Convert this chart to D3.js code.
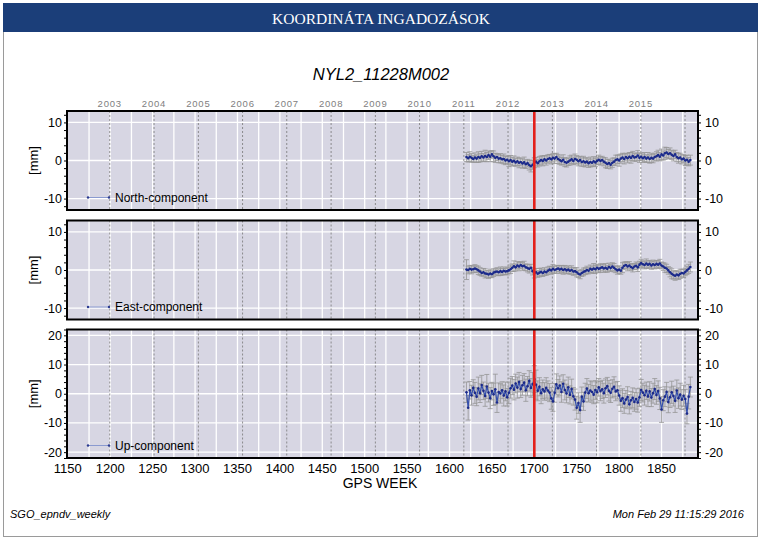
<!DOCTYPE html>
<html>
<head>
<meta charset="utf-8">
<script src="https://cdn.jsdelivr.net/npm/d3@7"></script>
<style>
  body { margin: 0; background: #fff; }
  svg text { font-family: "Liberation Sans", Arial, sans-serif; }
</style>
</head>
<body>
<div id="chart"></div>
<script>
// GPS weeks sampled (every second week)
var weeks = [1620,1622,1624,1626,1628,1630,1632,1634,1636,1638,1640,1642,1644,1646,1648,1650,1652,1654,1656,1658,
  1660,1662,1664,1666,1668,1670,1672,1674,1676,1678,1680,1682,1684,1686,1688,1690,1692,1694,1696,1698,
  1700,1702,1704,1706,1708,1710,1712,1714,1716,1718,1720,1722,1724,1726,1728,1730,1732,1734,1736,1738,
  1740,1742,1744,1746,1748,1750,1752,1754,1756,1758,1760,1762,1764,1766,1768,1770,1772,1774,1776,1778,
  1780,1782,1784,1786,1788,1790,1792,1794,1796,1798,1800,1802,1804,1806,1808,1810,1812,1814,1816,1818,
  1820,1822,1824,1826,1828,1830,1832,1834,1836,1838,1840,1842,1844,1846,1848,1850,1852,1854,1856,1858,
  1860,1862,1864,1866,1868,1870,1872,1874,1876,1878,1880,1882,1884]

var north = [0.9,0.6,1.0,0.7,0.4,0.8,0.5,0.9,0.7,1.1, 0.8,1.2,0.9,1.4,1.0,1.6,1.1,0.7,0.9,0.5,
  0.6,0.3,0.4,0.0,0.2,-0.2,0.1,-0.3,-0.1,-0.5, -0.2,-0.6,-0.4,-0.8,-0.5,-1.0,-0.7,-1.2,-1.5,-1.1,
  -0.6,-0.3,-0.7,-0.2,0.1,-0.1,0.3,0.0,0.4,0.6, 0.3,0.7,0.5,0.9,0.4,0.1,-0.2,0.2,-0.4,-0.6,
  -0.3,0.0,0.3,-0.1,0.4,0.2,-0.2,0.1,-0.4,-0.2, -0.5,-0.3,-0.7,-0.4,-0.6,-0.2,-0.5,-0.1,0.2,-0.1,
  0.1,-0.3,-0.6,-0.9,-0.7,-1.1,-0.6,-0.3,0.1,0.3, 0.0,0.5,0.8,0.4,0.9,0.6,1.0,0.7,1.2,0.8,
  0.9,1.3,0.7,1.0,0.6,0.9,0.5,0.8,0.4,0.7, 0.5,0.9,1.1,1.4,1.0,1.6,1.3,1.9,2.1,1.7,
  1.9,1.5,1.2,1.6,0.9,0.6,0.8,0.3,0.5,0.0, 0.2,-0.3,0.1]
var northErr = [1.2,1.0,1.3,1.1,0.9,1.2,1.0,1.4,1.1,1.3, 1.0,1.5,1.2,1.1,1.3,1.0,1.4,1.2,0.9,1.1,
  1.2,1.0,1.3,1.1,1.0,1.4,1.2,1.1,1.3,1.0, 1.1,1.3,1.0,1.2,1.4,1.1,1.0,1.3,1.5,1.2,
  1.3,1.1,1.0,1.2,1.1,1.3,1.0,1.2,1.1,1.0, 1.2,1.1,1.3,1.0,1.2,1.1,1.0,1.3,1.2,1.1,
  1.0,1.2,1.1,1.0,1.3,1.1,1.2,1.0,1.1,1.3, 1.2,1.0,1.1,1.3,1.0,1.2,1.1,1.0,1.2,1.1,
  1.0,1.1,1.3,1.2,1.0,1.1,1.2,1.0,1.3,1.1, 1.5,1.2,1.1,1.3,1.0,1.2,1.1,1.4,1.2,1.0,
  1.1,1.3,1.2,1.0,1.1,1.2,1.0,1.3,1.1,1.2, 1.1,1.0,1.2,1.3,1.1,1.4,1.2,1.6,1.3,1.2,
  1.4,1.2,1.3,1.1,1.2,1.3,1.1,1.2,1.0,1.3, 1.2,1.1,1.3]

var east = [0.1,0.0,0.3,0.1,0.2,0.4,0.2,-0.1,-0.4,-0.8, -0.6,-0.9,-1.0,-1.2,-0.9,-1.1,-0.7,-0.5,-0.4,-0.6,
  -0.3,-0.5,-0.2,-0.4,-0.3,-0.1,0.2,0.6,1.0,0.7, 1.2,0.9,1.3,1.0,1.1,0.7,0.5,0.3,0.6,-0.3,
  -0.9,-0.6,-1.0,-0.7,-0.5,-0.8,-0.4,-0.6,-0.2,0.1, -0.1,0.3,0.0,0.2,0.4,0.1,0.3,0.0,0.2,-0.1,
  0.1,-0.2,0.0,-0.4,-0.3,-0.6,-1.0,-1.2,-0.8,-0.5, -0.3,0.0,-0.2,0.3,0.1,0.4,0.2,0.6,0.3,0.5,
  0.7,0.4,0.6,0.3,0.8,0.5,0.9,0.6,0.2,-0.1, 0.1,-0.2,0.6,1.1,1.3,0.9,1.2,0.8,0.5,0.9,
  1.1,0.7,1.4,1.8,1.5,1.3,1.7,1.4,1.6,1.2, 1.5,1.3,1.6,1.4,1.7,1.2,0.9,0.6,0.4,-0.1,
  -0.6,-1.0,-1.3,-1.5,-1.2,-1.4,-1.0,-0.8,-0.9,-0.5, -0.1,0.3,0.8]
var eastErr = [2.6,1.0,0.9,1.1,0.8,1.0,0.9,1.1,1.0,0.8, 1.0,1.2,0.9,1.0,1.1,0.9,1.0,0.8,1.0,0.9,
  1.1,0.9,1.0,0.8,1.0,0.9,1.1,1.0,1.4,0.9, 1.0,1.1,0.9,1.0,1.2,0.9,1.0,1.1,0.9,1.0,
  1.2,1.0,0.9,1.1,1.0,0.9,1.0,0.8,1.0,0.9, 1.0,1.1,0.9,1.0,0.8,1.0,0.9,1.1,1.0,0.9,
  1.0,0.9,1.1,1.0,0.9,1.2,1.0,1.1,0.9,1.0, 0.9,1.0,0.8,1.0,0.9,1.3,1.0,0.9,1.0,1.1,
  0.9,1.0,1.1,0.9,1.0,0.9,1.0,1.1,0.9,1.0, 1.0,0.9,1.3,1.0,0.9,1.1,1.0,0.9,1.0,0.8,
  1.0,1.1,0.9,1.0,0.9,1.0,1.2,1.0,0.9,1.0, 1.1,1.0,0.9,1.0,1.1,0.9,1.0,1.2,1.1,1.0,
  1.2,1.3,1.1,1.2,1.0,1.1,1.2,1.0,1.1,1.0, 1.1,1.2,1.3]

var up = [0.5,-4.8,1.2,-0.5,2.0,0.3,-1.0,1.8,0.2,3.0, 1.0,-0.8,2.5,0.4,-1.5,0.9,-0.2,1.5,-3.0,0.6,
  0.1,1.2,-0.6,0.8,-1.2,0.3,1.9,2.8,1.4,3.5, 2.1,4.0,1.6,2.9,3.8,1.2,2.6,4.4,2.0,3.3,
  5.0,3.1,1.0,2.4,0.2,1.5,0.8,2.0,1.1,0.4, -1.6,-2.6,0.3,3.2,1.9,2.8,0.6,3.4,1.3,0.1,
  2.2,-0.4,1.6,-0.9,-2.0,-4.8,-3.2,-5.6,-1.0,-2.6, 0.4,1.8,0.2,1.1,0.6,-0.3,1.3,0.5,2.2,0.9,
  1.5,0.2,1.9,2.6,1.0,0.3,1.7,2.4,0.8,1.2, -0.6,-2.4,-1.5,-3.3,-2.0,-1.1,-3.6,-2.2,-1.4,-2.8,
  -1.8,-3.0,-1.2,1.3,0.4,-0.5,1.0,-0.9,0.8,-1.3, 0.2,1.6,-0.4,0.9,-1.6,-5.4,-2.2,-1.0,0.6,-2.8,
  -1.2,0.5,-0.8,-2.4,1.1,-1.5,-0.3,-2.0,-0.7,-1.8, -6.8,-1.0,2.3]
var upErr = [3.5,4.2,3.0,3.4,2.8,3.6,3.1,3.9,3.2,3.3, 3.0,3.5,4.1,3.2,3.6,3.0,3.8,5.2,3.4,3.1,
  3.3,2.9,3.6,3.2,3.0,3.7,3.4,3.1,3.5,3.2, 3.6,3.3,2.9,3.4,3.1,3.8,3.3,3.5,3.2,4.0,
  4.6,5.0,3.4,3.1,3.6,3.2,3.0,3.5,3.3,3.1, 3.7,3.4,3.2,3.6,3.0,3.3,3.5,3.1,3.4,3.2,
  3.5,3.1,3.4,3.0,3.6,3.9,3.5,4.2,3.3,3.1, 3.2,3.4,3.0,3.3,3.5,3.1,3.2,3.6,3.0,3.3,
  3.1,3.4,3.2,3.0,3.5,3.3,3.1,3.4,3.2,3.0, 3.3,3.6,3.2,3.4,3.1,3.5,3.3,3.0,3.4,3.2,
  3.5,3.3,3.1,3.6,3.2,3.4,3.0,3.5,3.3,3.1, 3.4,3.6,3.2,3.5,3.8,4.4,3.6,3.4,3.3,3.7,
  3.5,3.8,3.4,4.0,3.6,3.5,3.9,3.4,3.6,3.3, 3.5,4.2,3.4]

var yearLabels = [2003,2004,2005,2006,2007,2008,2009,2010,2011,2012,2013,2014,2015]
var yearStarts = [1199.4,1251.6,1303.9,1356.0,1408.1,1460.4,1512.6,1564.7,1616.9,1669.0,1721.3,1773.4,1825.6,1877.7]
var weekTicks = [1150,1200,1250,1300,1350,1400,1450,1500,1550,1600,1650,1700,1750,1800,1850]
var markWeek = 1700

var panels = [
  {name: "North-component", values: north, errs: northErr, top: 111, bottom: 210, lim: 13, ticks: [-10,0,10]},
  {name: "East-component", values: east, errs: eastErr, top: 220.5, bottom: 319.5, lim: 13, ticks: [-10,0,10]},
  {name: "Up-component", values: up, errs: upErr, top: 329.5, bottom: 458, lim: 22, ticks: [-20,-10,0,10,20]}
]

var width = 762, height = 541
var left = 67, right = 698

var svg = d3.select("#chart").append("svg")
  .attr("width", width)
  .attr("height", height)

// outer frame and header
svg.append("rect").attr("x", 3.5).attr("y", 3.5).attr("width", 754).attr("height", 533)
  .attr("fill", "none").attr("stroke", "#9a9a9a")
svg.append("rect").attr("x", 3).attr("y", 3).attr("width", 755).attr("height", 29)
  .attr("fill", "#1b3e79")
svg.append("text").attr("x", 381).attr("y", 23.5)
  .attr("text-anchor", "middle").attr("fill", "#fff")
  .style("font-family", "'Liberation Serif', 'Times New Roman', serif").style("font-size", "15.5px")
  .text("KOORDINÁTA INGADOZÁSOK")

svg.append("text").attr("x", 381).attr("y", 80)
  .attr("text-anchor", "middle").style("font-size", "16.5px").style("font-style", "italic")
  .text("NYL2_11228M002")

var x = d3.scaleLinear().domain([1149, 1893]).range([left, right])

// year labels along the top
svg.selectAll(".year").data(yearLabels).enter().append("text")
  .attr("class", "year")
  .attr("x", function(d, i) { return x(yearStarts[i]) })
  .attr("y", 107)
  .attr("text-anchor", "middle")
  .attr("fill", "#808080")
  .style("font-size", "9.5px").style("letter-spacing", "0.8px")
  .text(function(d) { return d })

panels.forEach(function(p) {
  var y = d3.scaleLinear().domain([-p.lim, p.lim]).range([p.bottom, p.top])
  var g = svg.append("g")

  g.append("rect").attr("x", left).attr("y", p.top)
    .attr("width", right - left).attr("height", p.bottom - p.top)
    .attr("fill", "#d7d6e3")

  // white grid: every 25 weeks, and at the labelled mm values
  g.selectAll(".vg").data(d3.range(1175, 1893, 25)).enter().append("line")
    .attr("x1", function(d) { return x(d) }).attr("x2", function(d) { return x(d) })
    .attr("y1", p.top).attr("y2", p.bottom)
    .attr("stroke", "#fff").attr("stroke-width", 1.3)
  g.selectAll(".hg").data(p.ticks).enter().append("line")
    .attr("x1", left).attr("x2", right)
    .attr("y1", function(d) { return y(d) }).attr("y2", function(d) { return y(d) })
    .attr("stroke", "#fff").attr("stroke-width", 1.3)

  // year boundaries
  g.selectAll(".yl").data(yearStarts).enter().append("line")
    .attr("x1", function(d) { return x(d) }).attr("x2", function(d) { return x(d) })
    .attr("y1", p.top).attr("y2", p.bottom)
    .attr("stroke", "#777").attr("stroke-width", 0.8).attr("stroke-dasharray", "2,2")

  // error bars
  var eb = g.append("g").attr("stroke", "#969696").attr("stroke-width", 0.8)
  p.values.forEach(function(v, i) {
    var cx = x(weeks[i]), y0 = y(v - p.errs[i]), y1 = y(v + p.errs[i])
    eb.append("line").attr("x1", cx).attr("x2", cx).attr("y1", y0).attr("y2", y1)
    eb.append("line").attr("x1", cx - 2.5).attr("x2", cx + 2.5).attr("y1", y0).attr("y2", y0)
    eb.append("line").attr("x1", cx - 2.5).attr("x2", cx + 2.5).attr("y1", y1).attr("y2", y1)
  })

  var line = d3.line().x(function(d, i) { return x(weeks[i]) }).y(function(d) { return y(d) })
  g.append("path").datum(p.values).attr("d", line)
    .attr("fill", "none").attr("stroke", "#3550ad").attr("stroke-width", 1.2)
  g.selectAll(".pt").data(p.values).enter().append("circle")
    .attr("cx", function(d, i) { return x(weeks[i]) })
    .attr("cy", function(d) { return y(d) })
    .attr("r", 1.3).attr("fill", "#1c2a8a")

  // red reference week
  g.append("line").attr("x1", x(markWeek)).attr("x2", x(markWeek))
    .attr("y1", p.top).attr("y2", p.bottom)
    .attr("stroke", "#e3201b").attr("stroke-width", 2.6)

  // legend
  var ly = p.bottom - 12.5
  g.append("line").attr("x1", 88).attr("x2", 109).attr("y1", ly).attr("y2", ly)
    .attr("stroke", "#8a9ad0").attr("stroke-width", 1)
  g.selectAll(".ld").data([88, 109]).enter().append("circle")
    .attr("cx", function(d) { return d }).attr("cy", ly).attr("r", 1.2).attr("fill", "#2a3a90")
  g.append("text").attr("x", 115).attr("y", ly + 4.2)
    .style("font-size", "12px").text(p.name)

  // axes left and right
  g.append("g").attr("transform", "translate(" + left + ",0)")
    .call(d3.axisLeft(y).tickValues(d3.range(-p.lim + (p.lim % 2), p.lim + 0.1, 2)).tickSize(3).tickFormat(""))
  g.append("g").attr("transform", "translate(" + right + ",0)")
    .call(d3.axisRight(y).tickValues(d3.range(-p.lim + (p.lim % 2), p.lim + 0.1, 2)).tickSize(3).tickFormat(""))
  g.selectAll(".domain").remove()

  g.selectAll(".lt").data(p.ticks).enter().append("text")
    .attr("x", 62).attr("y", function(d) { return y(d) + 4.5 })
    .attr("text-anchor", "end").style("font-size", "12.5px")
    .text(function(d) { return d })
  g.selectAll(".rt").data(p.ticks).enter().append("text")
    .attr("x", 705).attr("y", function(d) { return y(d) + 4.5 })
    .style("font-size", "12.5px")
    .text(function(d) { return d })

  g.append("text")
    .attr("transform", "translate(38," + ((p.top + p.bottom) / 2) + ") rotate(-90)")
    .attr("text-anchor", "middle").style("font-size", "13px")
    .text("[mm]")

  g.append("rect").attr("x", left).attr("y", p.top)
    .attr("width", right - left).attr("height", p.bottom - p.top)
    .attr("fill", "none").attr("stroke", "#000").attr("stroke-width", 2)
})

// bottom week axis
svg.selectAll(".wk").data(weekTicks).enter().append("text")
  .attr("x", function(d) { return x(d) }).attr("y", 473)
  .attr("text-anchor", "middle").style("font-size", "13px")
  .text(function(d) { return d })
svg.append("text").attr("x", 380).attr("y", 488)
  .attr("text-anchor", "middle").style("font-size", "14px")
  .text("GPS WEEK")

svg.append("text").attr("x", 10).attr("y", 518)
  .style("font-size", "11px").style("font-style", "italic")
  .text("SGO_epndv_weekly")
svg.append("text").attr("x", 744).attr("y", 518)
  .attr("text-anchor", "end").style("font-size", "11px").style("font-style", "italic")
  .text("Mon Feb 29 11:15:29 2016")
</script>
</body>
</html>
